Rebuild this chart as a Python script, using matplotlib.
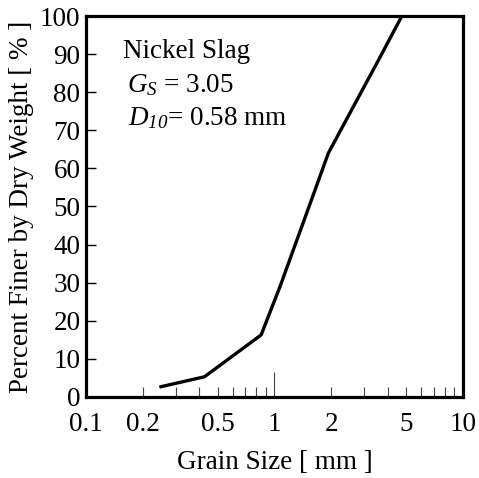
import matplotlib
matplotlib.use('Agg')
import matplotlib.pyplot as plt
from matplotlib.ticker import FixedLocator, NullFormatter

plt.rcParams['font.family'] = 'Liberation Serif'
plt.rcParams['mathtext.fontset'] = 'custom'
plt.rcParams['mathtext.rm'] = 'Liberation Serif'
plt.rcParams['mathtext.it'] = 'Liberation Serif:italic'
plt.rcParams['mathtext.sf'] = 'Liberation Serif:italic'  # italic digits for D10

# grading curve
grain_size = [0.25, 0.425, 0.85, 1.07, 1.57, 1.93, 2.62, 3.49, 4.74, 10]
percent_finer = [2.7, 5.3, 16.3, 29.0, 51.7, 64.0, 76.2, 87.6, 100, 100]

x_labels = [0.1, 0.2, 0.5, 1, 2, 5, 10]
x_label_text = ['0.1', '0.2', '0.5', '1', '2', '5', '10']
x_minor = [0.3, 0.4, 0.6, 0.7, 0.8, 0.9, 3, 4, 6, 7, 8, 9]
y_ticks = list(range(0, 101, 10))

fs = 19.5

fig = plt.figure(figsize=(4.79, 4.78), dpi=100)
ax = fig.add_axes([0.1795, 0.1695, 0.7871, 0.797])

ax.plot(grain_size, percent_finer, color='black', lw=2.4, solid_joinstyle='miter')

ax.set_xscale('log')
ax.set_xlim(0.1, 10)
ax.set_ylim(0, 100)

ax.xaxis.set_major_locator(FixedLocator(x_labels))
ax.set_xticklabels(x_label_text)
ax.xaxis.set_minor_locator(FixedLocator(x_minor))
ax.xaxis.set_minor_formatter(NullFormatter())
ax.set_yticks(y_ticks)

ax.tick_params(axis='x', which='both', direction='in', length=7, width=0.8,
               color='#444444', labelsize=fs, pad=11)
ax.tick_params(axis='y', which='major', direction='in', length=7, width=1.0,
               labelsize=fs, pad=4)
# the tick at 1 mm is drawn taller
ax.xaxis.get_major_ticks()[3].tick1line.set_markersize(18)

for s in ax.spines.values():
    s.set_linewidth(2.3)

ax.set_xlabel('Grain Size [ mm ]', fontsize=fs, labelpad=9)
ax.set_ylabel('Percent Finer by Dry Weight [ % ]', fontsize=fs, labelpad=4)

ax.text(0.157, 89, 'Nickel Slag', fontsize=fs, va='baseline')
ax.text(0.165, 80, r'$G_S$ = 3.05', fontsize=fs, va='baseline')
ax.text(0.168, 71.4, r'$D_{\mathsf{10}}$= 0.58 mm', fontsize=fs, va='baseline')

fig.savefig('out.png', dpi=100)
